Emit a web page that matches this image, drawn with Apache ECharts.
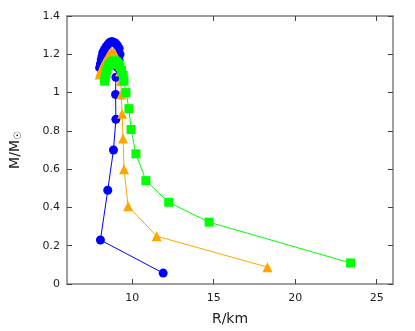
<!DOCTYPE html>
<html>
<head>
<meta charset="utf-8">
<script src="https://cdn.jsdelivr.net/npm/echarts@6/dist/echarts.min.js"></script>
<style>
html,body{margin:0;padding:0;background:#fff;}
#c{width:415px;height:331px;}
</style>
</head>
<body>
<div id="c"></div>
<script>
// Data (radius in km, mass in solar masses)
const blueR = [11.9, 8.05, 8.5, 8.85, 9.0, 8.98, 9.0, 9.1, 9.2, 9.25, 9.2, 9.1, 9.0, 8.9, 8.8, 8.7, 8.6, 8.5, 8.4, 8.3, 8.2, 8.15, 8.1, 8.05, 8.0];
const blueM = [0.057, 0.23, 0.49, 0.70, 0.86, 0.99, 1.08, 1.13, 1.17, 1.20, 1.23, 1.245, 1.255, 1.262, 1.265, 1.265, 1.26, 1.25, 1.24, 1.225, 1.21, 1.19, 1.17, 1.15, 1.13];

const orangeR = [18.3, 11.5, 9.75, 9.5, 9.44, 9.38, 9.33, 9.3, 9.25, 9.15, 9.05, 8.95, 8.85, 8.75, 8.65, 8.55, 8.45, 8.35, 8.25, 8.15, 8.05, 8.0];
const orangeM = [0.088, 0.25, 0.406, 0.60, 0.76, 0.89, 0.99, 1.06, 1.11, 1.15, 1.18, 1.20, 1.21, 1.21, 1.205, 1.195, 1.18, 1.165, 1.15, 1.13, 1.11, 1.095];

const greenR = [23.4, 14.72, 12.24, 10.84, 10.23, 9.93, 9.8, 9.62, 9.5, 9.45, 9.35, 9.25, 9.15, 9.05, 8.95, 8.85, 8.75, 8.65, 8.55, 8.45, 8.4, 8.35, 8.3];
const greenM = [0.11, 0.323, 0.427, 0.54, 0.68, 0.807, 0.916, 1.0, 1.06, 1.09, 1.115, 1.135, 1.15, 1.16, 1.165, 1.165, 1.16, 1.15, 1.14, 1.12, 1.10, 1.08, 1.06];

const xTicks = [10, 15, 20, 25];
const xMin = 6, xMax = 26;
const yMin = 0, yMax = 1.4, yStep = 0.2;

function pairs(r, m) { return r.map((v, i) => [v, m[i]]); }

const font = 'DejaVu Sans';
const axisGray = '#808080';
const tickColor = '#444';

const chart = echarts.init(document.getElementById('c'), null, {renderer: 'canvas'});
chart.setOption({
  animation: false,
  backgroundColor: '#fff',
  grid: {left: 63, right: 22, top: 16, bottom: 46},
  xAxis: [{
    type: 'value', min: xMin, max: xMax, position: 'bottom',
    splitLine: {show: false},
    axisLine: {show: true, lineStyle: {color: axisGray, width: 1.5}},
    axisTick: {show: true, inside: true, length: 5, customValues: xTicks, lineStyle: {color: tickColor}},
    axisLabel: {customValues: xTicks, margin: 9, fontFamily: font, fontSize: 11, color: '#222'},
    name: 'R/km', nameLocation: 'middle', nameGap: 28,
    nameTextStyle: {fontFamily: font, fontSize: 14, color: '#222'}
  }, {
    type: 'value', min: xMin, max: xMax, position: 'top',
    splitLine: {show: false},
    axisLine: {show: true, onZero: false, lineStyle: {color: axisGray, width: 1.5}},
    axisTick: {show: true, inside: true, length: 5, customValues: xTicks, lineStyle: {color: tickColor}},
    axisLabel: {show: false}
  }],
  yAxis: [{
    type: 'value', min: yMin, max: yMax, interval: yStep, position: 'left',
    splitLine: {show: false},
    axisLine: {show: true, onZero: false, lineStyle: {color: axisGray, width: 1.5}},
    axisTick: {show: true, inside: true, length: 5, lineStyle: {color: tickColor}},
    axisLabel: {margin: 7, fontFamily: font, fontSize: 11, color: '#222'},
    name: '{a|M/M}{s|☉}', nameLocation: 'middle', nameGap: 44, nameRotate: 90,
    nameTextStyle: {
      fontFamily: font, fontSize: 14, color: '#222',
      rich: {
        a: {fontFamily: font, fontSize: 14, color: '#222'},
        s: {fontFamily: font, fontSize: 10, color: '#222', verticalAlign: 'bottom', padding: [6, 0, 0, 0]}
      }
    }
  }, {
    type: 'value', min: yMin, max: yMax, interval: yStep, position: 'right',
    splitLine: {show: false},
    axisLine: {show: true, onZero: false, lineStyle: {color: axisGray, width: 1.5}},
    axisTick: {show: true, inside: true, length: 5, lineStyle: {color: tickColor}},
    axisLabel: {show: false}
  }],
  series: [{
    type: 'line', data: pairs(blueR, blueM), xAxisIndex: 0, yAxisIndex: 0,
    symbol: 'circle', symbolSize: 9, showAllSymbol: true,
    itemStyle: {color: '#0000ff'}, lineStyle: {color: '#0000ff', width: 1}, z: 2
  }, {
    type: 'line', data: pairs(orangeR, orangeM), xAxisIndex: 0, yAxisIndex: 0,
    symbol: 'triangle', symbolSize: 10, showAllSymbol: true,
    itemStyle: {color: '#ffa500'}, lineStyle: {color: '#ffa500', width: 1}, z: 3
  }, {
    type: 'line', data: pairs(greenR, greenM), xAxisIndex: 0, yAxisIndex: 0,
    symbol: 'rect', symbolSize: 9, showAllSymbol: true,
    itemStyle: {color: '#00ff00'}, lineStyle: {color: '#00ff00', width: 1}, z: 4
  }]
});
</script>
</body>
</html>
